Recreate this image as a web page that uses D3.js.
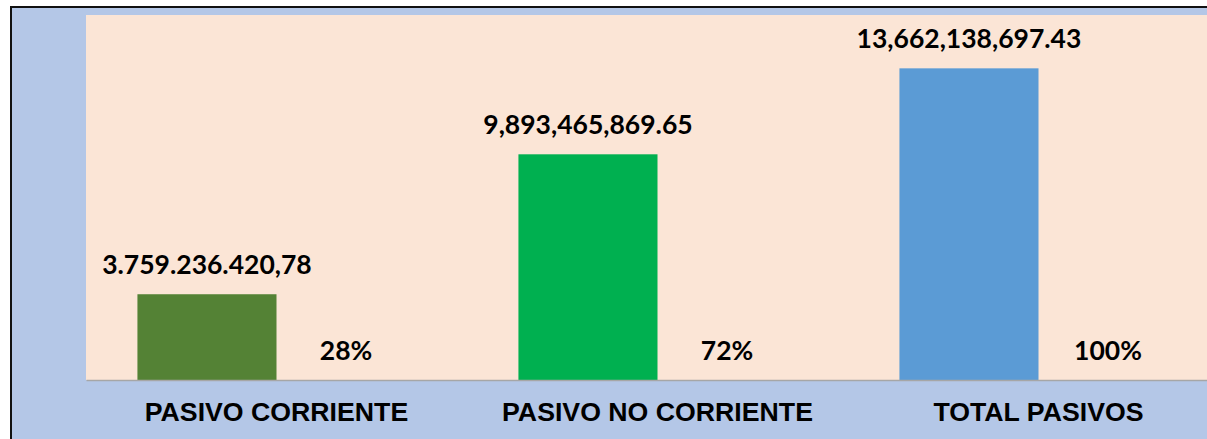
<!DOCTYPE html>
<html>
<head>
<meta charset="utf-8">
<script src="https://cdn.jsdelivr.net/npm/d3@7"></script>
<style>
  html, body { margin: 0; padding: 0; background: #ffffff; }
  svg { display: block; }
</style>
</head>
<body>
<svg id="chart" width="1207" height="439"></svg>
<script>
const categories = ["PASIVO CORRIENTE", "PASIVO NO CORRIENTE", "TOTAL PASIVOS"];
const values = [3759236420.78, 9893465869.65, 13662138697.43];
const valueLabels = ["3.759.236.420,78", "9,893,465,869.65", "13,662,138,697.43"];
const percents = [28, 72, 100];
const barColors = ["#548235", "#00B050", "#5B9BD5"];

const W = 1207, H = 439;
const svg = d3.select("#chart");

// outer frame
svg.append("rect").attr("x", 11).attr("y", 7).attr("width", W + 20).attr("height", H + 20)
  .attr("fill", "#B4C7E7").attr("stroke", "#111").attr("stroke-width", 2);

const plot = { left: 86, top: 15, right: 1229, bottom: 380 };

svg.append("rect").attr("x", plot.left).attr("y", plot.top)
  .attr("width", plot.right - plot.left).attr("height", plot.bottom - plot.top)
  .attr("fill", "#FBE5D6");

const x0 = d3.scaleBand().domain(categories).range([plot.left, plot.right])
  .paddingInner(0.27).paddingOuter(0.135);
const x1 = d3.scaleBand().domain(["value", "pct"]).range([0, x0.bandwidth()]);
const y = d3.scaleLinear().domain([0, 16e9]).range([plot.bottom, plot.top]);

const data = categories.map((c, i) => ({ c, v: values[i], lab: valueLabels[i], p: percents[i], col: barColors[i] }));

// bars
svg.append("g").selectAll("rect").data(data).join("rect")
  .attr("x", d => x0(d.c) + x1("value"))
  .attr("y", d => y(d.v))
  .attr("width", x1.bandwidth())
  .attr("height", d => y(0) - y(d.v))
  .attr("fill", d => d.col);

// axis line
const axis = svg.append("g").attr("transform", `translate(0,${plot.bottom})`)
  .call(d3.axisBottom(x0).tickSize(0).tickPadding(0).tickFormat(""));
axis.select(".domain").attr("stroke", "#A6A6A6").attr("stroke-width", 1.5);

// category labels
svg.append("g").selectAll("text").data(data).join("text")
  .attr("x", d => x0(d.c) + x0.bandwidth() / 2)
  .attr("y", 421)
  .attr("text-anchor", "middle")
  .attr("font-family", "'Liberation Sans', Arial, sans-serif")
  .attr("font-weight", "bold")
  .attr("font-size", 26.7)
  .attr("fill", "#000")
  .text(d => d.c);

// value labels
svg.append("g").selectAll("text").data(data).join("text")
  .attr("x", d => x0(d.c) + x1("value") + x1.bandwidth() / 2)
  .attr("y", d => y(d.v) - 20)
  .attr("text-anchor", "middle")
  .attr("font-family", "Lato, 'Open Sans', sans-serif")
  .attr("font-weight", "bold")
  .attr("font-size", 26.5)
  .attr("fill", "#000")
  .text(d => d.lab);

// percent labels
svg.append("g").selectAll("text").data(data).join("text")
  .attr("x", d => x0(d.c) + x1("pct") + x1.bandwidth() / 2)
  .attr("y", 360)
  .attr("text-anchor", "middle")
  .attr("font-family", "Lato, 'Open Sans', sans-serif")
  .attr("font-weight", "bold")
  .attr("font-size", 26.5)
  .attr("fill", "#000")
  .text(d => d.p + "%");
</script>
</body>
</html>
